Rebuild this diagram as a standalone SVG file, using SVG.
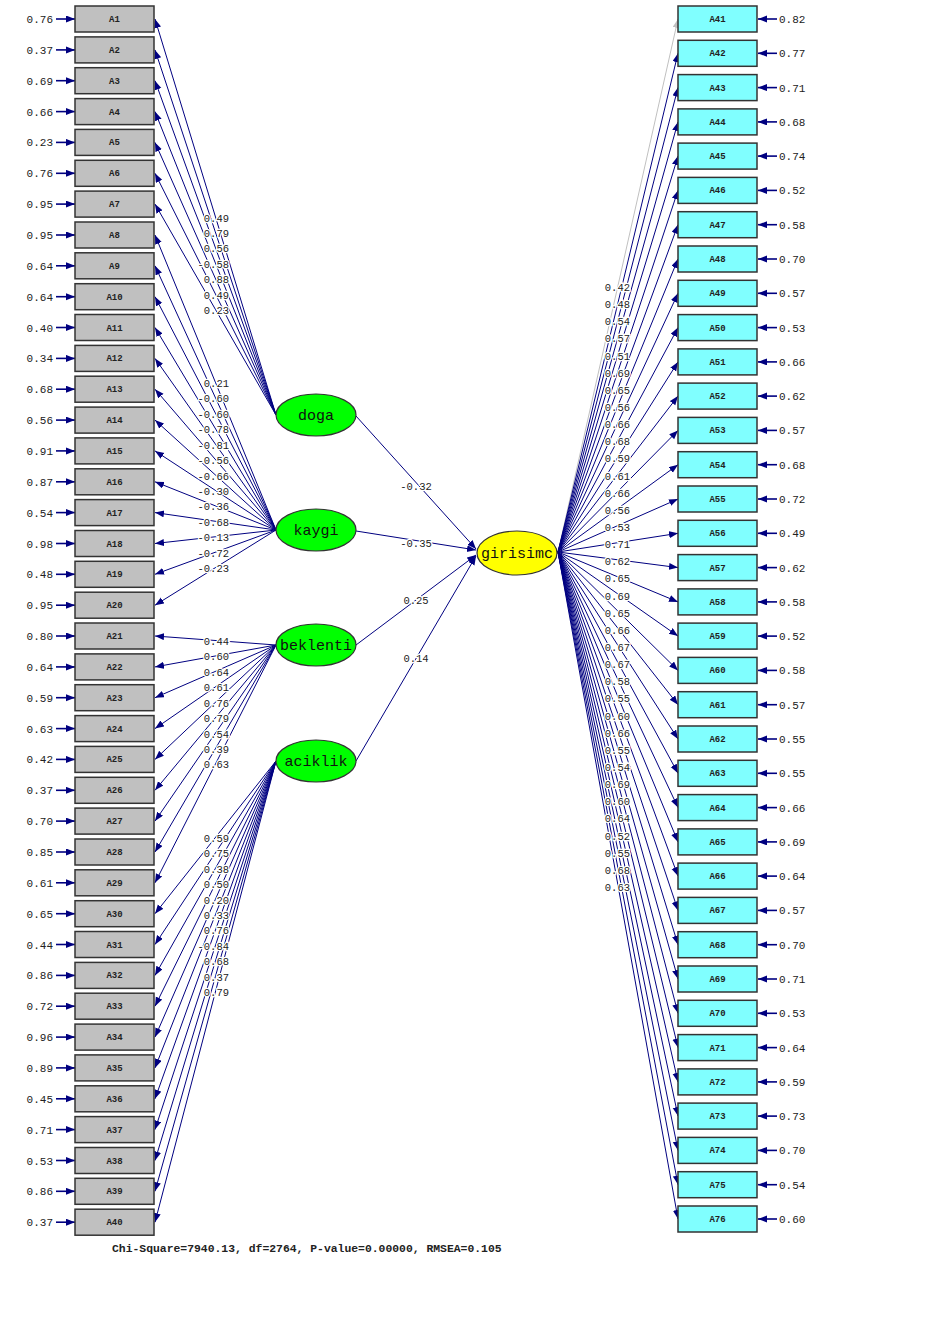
<svg xmlns="http://www.w3.org/2000/svg" width="945" height="1336" viewBox="0 0 945 1336">
<style>
.bg{fill:#ffffff}
.lb{fill:#c0c0c0;stroke:#333;stroke-width:1.5}
.rb{fill:#80ffff;stroke:#333;stroke-width:1.5}
.bt{font-family:"Liberation Mono",monospace;font-size:9px;font-weight:bold;fill:#222;text-anchor:middle}
.rl{font-family:"Liberation Mono",monospace;font-size:11px;fill:#222}
.ll{text-anchor:end}
.lat{fill:#00ff00;stroke:#333;stroke-width:1.2}
.eta{fill:#ffff00;stroke:#333;stroke-width:1.2}
.lt{font-family:"Liberation Mono",monospace;font-size:15px;fill:#111;text-anchor:middle}
.c line{stroke:#000080;stroke-width:1;marker-end:url(#ah)}
.c line.g{stroke:#c0c0c0;marker-end:url(#ahg)}
.c line.r{stroke-width:1.6}
.v text{font-family:"Liberation Mono",monospace;font-size:10.5px;fill:#222;stroke:#fff;stroke-width:2.5;paint-order:stroke;text-anchor:end}
.v text.m{text-anchor:middle}
.ft{font-family:"Liberation Mono",monospace;font-size:11.4px;font-weight:bold;fill:#222}
</style>
<defs>
<marker id="ah" markerUnits="userSpaceOnUse" markerWidth="10" markerHeight="8" refX="9" refY="3.5" orient="auto"><path d="M0,0 L9,3.5 L0,7 Z" fill="#000080"/></marker>
<marker id="ahg" markerUnits="userSpaceOnUse" markerWidth="10" markerHeight="8" refX="9" refY="3.5" orient="auto"><path d="M0,0 L9,3.5 L0,7 Z" fill="#c0c0c0"/></marker>
</defs>
<rect class="bg" x="0" y="0" width="945" height="1336"/>

<g id="connectors" class="c">
<!-- left residuals -->
<line class="r" x1="56" y1="19" x2="75" y2="19"/>
<line class="r" x1="56" y1="49.9" x2="75" y2="49.9"/>
<line class="r" x1="56" y1="80.7" x2="75" y2="80.7"/>
<line class="r" x1="56" y1="111.6" x2="75" y2="111.6"/>
<line class="r" x1="56" y1="142.4" x2="75" y2="142.4"/>
<line class="r" x1="56" y1="173.3" x2="75" y2="173.3"/>
<line class="r" x1="56" y1="204.1" x2="75" y2="204.1"/>
<line class="r" x1="56" y1="235" x2="75" y2="235"/>
<line class="r" x1="56" y1="265.8" x2="75" y2="265.8"/>
<line class="r" x1="56" y1="296.7" x2="75" y2="296.7"/>
<line class="r" x1="56" y1="327.5" x2="75" y2="327.5"/>
<line class="r" x1="56" y1="358.4" x2="75" y2="358.4"/>
<line class="r" x1="56" y1="389.2" x2="75" y2="389.2"/>
<line class="r" x1="56" y1="420.1" x2="75" y2="420.1"/>
<line class="r" x1="56" y1="450.9" x2="75" y2="450.9"/>
<line class="r" x1="56" y1="481.8" x2="75" y2="481.8"/>
<line class="r" x1="56" y1="512.6" x2="75" y2="512.6"/>
<line class="r" x1="56" y1="543.5" x2="75" y2="543.5"/>
<line class="r" x1="56" y1="574.3" x2="75" y2="574.3"/>
<line class="r" x1="56" y1="605.2" x2="75" y2="605.2"/>
<line class="r" x1="56" y1="636" x2="75" y2="636"/>
<line class="r" x1="56" y1="666.9" x2="75" y2="666.9"/>
<line class="r" x1="56" y1="697.7" x2="75" y2="697.7"/>
<line class="r" x1="56" y1="728.6" x2="75" y2="728.6"/>
<line class="r" x1="56" y1="759.4" x2="75" y2="759.4"/>
<line class="r" x1="56" y1="790.3" x2="75" y2="790.3"/>
<line class="r" x1="56" y1="821.1" x2="75" y2="821.1"/>
<line class="r" x1="56" y1="852" x2="75" y2="852"/>
<line class="r" x1="56" y1="882.8" x2="75" y2="882.8"/>
<line class="r" x1="56" y1="913.7" x2="75" y2="913.7"/>
<line class="r" x1="56" y1="944.5" x2="75" y2="944.5"/>
<line class="r" x1="56" y1="975.4" x2="75" y2="975.4"/>
<line class="r" x1="56" y1="1006.2" x2="75" y2="1006.2"/>
<line class="r" x1="56" y1="1037.1" x2="75" y2="1037.1"/>
<line class="r" x1="56" y1="1067.9" x2="75" y2="1067.9"/>
<line class="r" x1="56" y1="1098.8" x2="75" y2="1098.8"/>
<line class="r" x1="56" y1="1129.6" x2="75" y2="1129.6"/>
<line class="r" x1="56" y1="1160.5" x2="75" y2="1160.5"/>
<line class="r" x1="56" y1="1191.3" x2="75" y2="1191.3"/>
<line class="r" x1="56" y1="1222.2" x2="75" y2="1222.2"/>
<!-- right residuals -->
<line class="r" x1="777" y1="19" x2="758" y2="19"/>
<line class="r" x1="777" y1="53.3" x2="758" y2="53.3"/>
<line class="r" x1="777" y1="87.6" x2="758" y2="87.6"/>
<line class="r" x1="777" y1="121.9" x2="758" y2="121.9"/>
<line class="r" x1="777" y1="156.1" x2="758" y2="156.1"/>
<line class="r" x1="777" y1="190.4" x2="758" y2="190.4"/>
<line class="r" x1="777" y1="224.7" x2="758" y2="224.7"/>
<line class="r" x1="777" y1="259" x2="758" y2="259"/>
<line class="r" x1="777" y1="293.3" x2="758" y2="293.3"/>
<line class="r" x1="777" y1="327.6" x2="758" y2="327.6"/>
<line class="r" x1="777" y1="361.9" x2="758" y2="361.9"/>
<line class="r" x1="777" y1="396.1" x2="758" y2="396.1"/>
<line class="r" x1="777" y1="430.4" x2="758" y2="430.4"/>
<line class="r" x1="777" y1="464.7" x2="758" y2="464.7"/>
<line class="r" x1="777" y1="499" x2="758" y2="499"/>
<line class="r" x1="777" y1="533.3" x2="758" y2="533.3"/>
<line class="r" x1="777" y1="567.6" x2="758" y2="567.6"/>
<line class="r" x1="777" y1="601.9" x2="758" y2="601.9"/>
<line class="r" x1="777" y1="636.1" x2="758" y2="636.1"/>
<line class="r" x1="777" y1="670.4" x2="758" y2="670.4"/>
<line class="r" x1="777" y1="704.7" x2="758" y2="704.7"/>
<line class="r" x1="777" y1="739" x2="758" y2="739"/>
<line class="r" x1="777" y1="773.3" x2="758" y2="773.3"/>
<line class="r" x1="777" y1="807.6" x2="758" y2="807.6"/>
<line class="r" x1="777" y1="841.9" x2="758" y2="841.9"/>
<line class="r" x1="777" y1="876.1" x2="758" y2="876.1"/>
<line class="r" x1="777" y1="910.4" x2="758" y2="910.4"/>
<line class="r" x1="777" y1="944.7" x2="758" y2="944.7"/>
<line class="r" x1="777" y1="979" x2="758" y2="979"/>
<line class="r" x1="777" y1="1013.3" x2="758" y2="1013.3"/>
<line class="r" x1="777" y1="1047.6" x2="758" y2="1047.6"/>
<line class="r" x1="777" y1="1081.9" x2="758" y2="1081.9"/>
<line class="r" x1="777" y1="1116.1" x2="758" y2="1116.1"/>
<line class="r" x1="777" y1="1150.4" x2="758" y2="1150.4"/>
<line class="r" x1="777" y1="1184.7" x2="758" y2="1184.7"/>
<line class="r" x1="777" y1="1219" x2="758" y2="1219"/>
<!-- doga loadings -->
<line x1="276" y1="415" x2="155" y2="19"/>
<line x1="276" y1="415" x2="155" y2="49.9"/>
<line x1="276" y1="415" x2="155" y2="80.7"/>
<line x1="276" y1="415" x2="155" y2="111.6"/>
<line x1="276" y1="415" x2="155" y2="142.4"/>
<line x1="276" y1="415" x2="155" y2="173.3"/>
<line x1="276" y1="415" x2="155" y2="204.1"/>
<!-- kaygi loadings -->
<line x1="276" y1="530" x2="155" y2="235"/>
<line x1="276" y1="530" x2="155" y2="265.8"/>
<line x1="276" y1="530" x2="155" y2="296.7"/>
<line x1="276" y1="530" x2="155" y2="327.5"/>
<line x1="276" y1="530" x2="155" y2="358.4"/>
<line x1="276" y1="530" x2="155" y2="389.2"/>
<line x1="276" y1="530" x2="155" y2="420.1"/>
<line x1="276" y1="530" x2="155" y2="450.9"/>
<line x1="276" y1="530" x2="155" y2="481.8"/>
<line x1="276" y1="530" x2="155" y2="512.6"/>
<line x1="276" y1="530" x2="155" y2="543.5"/>
<line x1="276" y1="530" x2="155" y2="574.3"/>
<line x1="276" y1="530" x2="155" y2="605.2"/>
<!-- beklenti loadings -->
<line x1="276" y1="645" x2="155" y2="636"/>
<line x1="276" y1="645" x2="155" y2="666.9"/>
<line x1="276" y1="645" x2="155" y2="697.7"/>
<line x1="276" y1="645" x2="155" y2="728.6"/>
<line x1="276" y1="645" x2="155" y2="759.4"/>
<line x1="276" y1="645" x2="155" y2="790.3"/>
<line x1="276" y1="645" x2="155" y2="821.1"/>
<line x1="276" y1="645" x2="155" y2="852"/>
<line x1="276" y1="645" x2="155" y2="882.8"/>
<!-- aciklik loadings -->
<line x1="276" y1="761" x2="155" y2="913.7"/>
<line x1="276" y1="761" x2="155" y2="944.5"/>
<line x1="276" y1="761" x2="155" y2="975.4"/>
<line x1="276" y1="761" x2="155" y2="1006.2"/>
<line x1="276" y1="761" x2="155" y2="1037.1"/>
<line x1="276" y1="761" x2="155" y2="1067.9"/>
<line x1="276" y1="761" x2="155" y2="1098.8"/>
<line x1="276" y1="761" x2="155" y2="1129.6"/>
<line x1="276" y1="761" x2="155" y2="1160.5"/>
<line x1="276" y1="761" x2="155" y2="1191.3"/>
<line x1="276" y1="761" x2="155" y2="1222.2"/>
<!-- structural paths -->
<line x1="356" y1="416" x2="476" y2="549"/>
<line x1="356" y1="531" x2="476" y2="550"/>
<line x1="356" y1="645" x2="476" y2="555"/>
<line x1="356" y1="761" x2="476" y2="556"/>
<!-- girisimc loadings -->
<line class="g" x1="558" y1="552" x2="678" y2="19"/>
<line x1="558" y1="552" x2="678" y2="53.3"/>
<line x1="558" y1="552" x2="678" y2="87.6"/>
<line x1="558" y1="552" x2="678" y2="121.9"/>
<line x1="558" y1="552" x2="678" y2="156.1"/>
<line x1="558" y1="552" x2="678" y2="190.4"/>
<line x1="558" y1="552" x2="678" y2="224.7"/>
<line x1="558" y1="552" x2="678" y2="259"/>
<line x1="558" y1="552" x2="678" y2="293.3"/>
<line x1="558" y1="552" x2="678" y2="327.6"/>
<line x1="558" y1="552" x2="678" y2="361.9"/>
<line x1="558" y1="552" x2="678" y2="396.1"/>
<line x1="558" y1="552" x2="678" y2="430.4"/>
<line x1="558" y1="552" x2="678" y2="464.7"/>
<line x1="558" y1="552" x2="678" y2="499"/>
<line x1="558" y1="552" x2="678" y2="533.3"/>
<line x1="558" y1="552" x2="678" y2="567.6"/>
<line x1="558" y1="552" x2="678" y2="601.9"/>
<line x1="558" y1="552" x2="678" y2="636.1"/>
<line x1="558" y1="552" x2="678" y2="670.4"/>
<line x1="558" y1="552" x2="678" y2="704.7"/>
<line x1="558" y1="552" x2="678" y2="739"/>
<line x1="558" y1="552" x2="678" y2="773.3"/>
<line x1="558" y1="552" x2="678" y2="807.6"/>
<line x1="558" y1="552" x2="678" y2="841.9"/>
<line x1="558" y1="552" x2="678" y2="876.1"/>
<line x1="558" y1="552" x2="678" y2="910.4"/>
<line x1="558" y1="552" x2="678" y2="944.7"/>
<line x1="558" y1="552" x2="678" y2="979"/>
<line x1="558" y1="552" x2="678" y2="1013.3"/>
<line x1="558" y1="552" x2="678" y2="1047.6"/>
<line x1="558" y1="552" x2="678" y2="1081.9"/>
<line x1="558" y1="552" x2="678" y2="1116.1"/>
<line x1="558" y1="552" x2="678" y2="1150.4"/>
<line x1="558" y1="552" x2="678" y2="1184.7"/>
<line x1="558" y1="552" x2="678" y2="1219"/>
</g>

<g id="path-values" class="v">
<text x="229" y="221.5">0.49</text>
<text x="229" y="237">0.79</text>
<text x="229" y="252.3">0.56</text>
<text x="229" y="267.8">-0.58</text>
<text x="229" y="283.2">0.88</text>
<text x="229" y="298.6">0.49</text>
<text x="229" y="314">0.23</text>
<text x="229" y="387">0.21</text>
<text x="229" y="402.4">-0.60</text>
<text x="229" y="417.8">-0.60</text>
<text x="229" y="433.2">-0.78</text>
<text x="229" y="448.7">-0.81</text>
<text x="229" y="464.1">-0.56</text>
<text x="229" y="479.5">-0.66</text>
<text x="229" y="494.9">-0.30</text>
<text x="229" y="510.4">-0.36</text>
<text x="229" y="525.8">-0.68</text>
<text x="229" y="541.2">-0.13</text>
<text x="229" y="556.6">-0.72</text>
<text x="229" y="572.1">-0.23</text>
<text x="229" y="645">0.44</text>
<text x="229" y="660.4">0.60</text>
<text x="229" y="675.8">0.64</text>
<text x="229" y="691.3">0.61</text>
<text x="229" y="706.7">0.76</text>
<text x="229" y="722.1">0.79</text>
<text x="229" y="737.5">0.54</text>
<text x="229" y="753">0.39</text>
<text x="229" y="768.4">0.63</text>
<text x="229" y="841.8">0.59</text>
<text x="229" y="857.2">0.75</text>
<text x="229" y="872.7">0.38</text>
<text x="229" y="888.1">0.50</text>
<text x="229" y="903.5">0.20</text>
<text x="229" y="918.9">0.33</text>
<text x="229" y="934.4">0.76</text>
<text x="229" y="949.8">-0.84</text>
<text x="229" y="965.2">0.68</text>
<text x="229" y="980.6">0.37</text>
<text x="229" y="996.1">0.79</text>
<text class="m" x="416" y="490">-0.32</text>
<text class="m" x="416" y="547">-0.35</text>
<text class="m" x="416" y="604">0.25</text>
<text class="m" x="416" y="662">0.14</text>
<text x="630" y="291">0.42</text>
<text x="630" y="308.1">0.48</text>
<text x="630" y="325.3">0.54</text>
<text x="630" y="342.4">0.57</text>
<text x="630" y="359.5">0.51</text>
<text x="630" y="376.7">0.69</text>
<text x="630" y="393.8">0.65</text>
<text x="630" y="411">0.56</text>
<text x="630" y="428.1">0.66</text>
<text x="630" y="445.3">0.68</text>
<text x="630" y="462.4">0.59</text>
<text x="630" y="479.5">0.61</text>
<text x="630" y="496.7">0.66</text>
<text x="630" y="513.8">0.56</text>
<text x="630" y="531">0.53</text>
<text x="630" y="548.1">0.71</text>
<text x="630" y="565.3">0.62</text>
<text x="630" y="582.4">0.65</text>
<text x="630" y="599.5">0.69</text>
<text x="630" y="616.7">0.65</text>
<text x="630" y="633.8">0.66</text>
<text x="630" y="651">0.67</text>
<text x="630" y="668.1">0.67</text>
<text x="630" y="685.3">0.58</text>
<text x="630" y="702.4">0.55</text>
<text x="630" y="719.5">0.60</text>
<text x="630" y="736.7">0.66</text>
<text x="630" y="753.8">0.55</text>
<text x="630" y="771">0.54</text>
<text x="630" y="788.1">0.69</text>
<text x="630" y="805.3">0.60</text>
<text x="630" y="822.4">0.64</text>
<text x="630" y="839.5">0.52</text>
<text x="630" y="856.7">0.55</text>
<text x="630" y="873.8">0.68</text>
<text x="630" y="891">0.63</text>
</g>

<g id="A1"><rect class="lb" x="75" y="6" width="79" height="26"/><text class="bt" x="114.5" y="22">A1</text><text class="rl ll" x="53" y="23">0.76</text></g>
<g id="A2"><rect class="lb" x="75" y="36.9" width="79" height="26"/><text class="bt" x="114.5" y="52.9">A2</text><text class="rl ll" x="53" y="53.9">0.37</text></g>
<g id="A3"><rect class="lb" x="75" y="67.7" width="79" height="26"/><text class="bt" x="114.5" y="83.7">A3</text><text class="rl ll" x="53" y="84.7">0.69</text></g>
<g id="A4"><rect class="lb" x="75" y="98.6" width="79" height="26"/><text class="bt" x="114.5" y="114.6">A4</text><text class="rl ll" x="53" y="115.6">0.66</text></g>
<g id="A5"><rect class="lb" x="75" y="129.4" width="79" height="26"/><text class="bt" x="114.5" y="145.4">A5</text><text class="rl ll" x="53" y="146.4">0.23</text></g>
<g id="A6"><rect class="lb" x="75" y="160.3" width="79" height="26"/><text class="bt" x="114.5" y="176.3">A6</text><text class="rl ll" x="53" y="177.3">0.76</text></g>
<g id="A7"><rect class="lb" x="75" y="191.1" width="79" height="26"/><text class="bt" x="114.5" y="207.1">A7</text><text class="rl ll" x="53" y="208.1">0.95</text></g>
<g id="A8"><rect class="lb" x="75" y="222" width="79" height="26"/><text class="bt" x="114.5" y="238">A8</text><text class="rl ll" x="53" y="239">0.95</text></g>
<g id="A9"><rect class="lb" x="75" y="252.8" width="79" height="26"/><text class="bt" x="114.5" y="268.8">A9</text><text class="rl ll" x="53" y="269.8">0.64</text></g>
<g id="A10"><rect class="lb" x="75" y="283.7" width="79" height="26"/><text class="bt" x="114.5" y="299.7">A10</text><text class="rl ll" x="53" y="300.7">0.64</text></g>
<g id="A11"><rect class="lb" x="75" y="314.5" width="79" height="26"/><text class="bt" x="114.5" y="330.5">A11</text><text class="rl ll" x="53" y="331.5">0.40</text></g>
<g id="A12"><rect class="lb" x="75" y="345.4" width="79" height="26"/><text class="bt" x="114.5" y="361.4">A12</text><text class="rl ll" x="53" y="362.4">0.34</text></g>
<g id="A13"><rect class="lb" x="75" y="376.2" width="79" height="26"/><text class="bt" x="114.5" y="392.2">A13</text><text class="rl ll" x="53" y="393.2">0.68</text></g>
<g id="A14"><rect class="lb" x="75" y="407.1" width="79" height="26"/><text class="bt" x="114.5" y="423.1">A14</text><text class="rl ll" x="53" y="424.1">0.56</text></g>
<g id="A15"><rect class="lb" x="75" y="437.9" width="79" height="26"/><text class="bt" x="114.5" y="453.9">A15</text><text class="rl ll" x="53" y="454.9">0.91</text></g>
<g id="A16"><rect class="lb" x="75" y="468.8" width="79" height="26"/><text class="bt" x="114.5" y="484.8">A16</text><text class="rl ll" x="53" y="485.8">0.87</text></g>
<g id="A17"><rect class="lb" x="75" y="499.6" width="79" height="26"/><text class="bt" x="114.5" y="515.6">A17</text><text class="rl ll" x="53" y="516.6">0.54</text></g>
<g id="A18"><rect class="lb" x="75" y="530.5" width="79" height="26"/><text class="bt" x="114.5" y="546.5">A18</text><text class="rl ll" x="53" y="547.5">0.98</text></g>
<g id="A19"><rect class="lb" x="75" y="561.3" width="79" height="26"/><text class="bt" x="114.5" y="577.3">A19</text><text class="rl ll" x="53" y="578.3">0.48</text></g>
<g id="A20"><rect class="lb" x="75" y="592.2" width="79" height="26"/><text class="bt" x="114.5" y="608.2">A20</text><text class="rl ll" x="53" y="609.2">0.95</text></g>
<g id="A21"><rect class="lb" x="75" y="623" width="79" height="26"/><text class="bt" x="114.5" y="639">A21</text><text class="rl ll" x="53" y="640">0.80</text></g>
<g id="A22"><rect class="lb" x="75" y="653.9" width="79" height="26"/><text class="bt" x="114.5" y="669.9">A22</text><text class="rl ll" x="53" y="670.9">0.64</text></g>
<g id="A23"><rect class="lb" x="75" y="684.7" width="79" height="26"/><text class="bt" x="114.5" y="700.7">A23</text><text class="rl ll" x="53" y="701.7">0.59</text></g>
<g id="A24"><rect class="lb" x="75" y="715.6" width="79" height="26"/><text class="bt" x="114.5" y="731.6">A24</text><text class="rl ll" x="53" y="732.6">0.63</text></g>
<g id="A25"><rect class="lb" x="75" y="746.4" width="79" height="26"/><text class="bt" x="114.5" y="762.4">A25</text><text class="rl ll" x="53" y="763.4">0.42</text></g>
<g id="A26"><rect class="lb" x="75" y="777.3" width="79" height="26"/><text class="bt" x="114.5" y="793.3">A26</text><text class="rl ll" x="53" y="794.3">0.37</text></g>
<g id="A27"><rect class="lb" x="75" y="808.1" width="79" height="26"/><text class="bt" x="114.5" y="824.1">A27</text><text class="rl ll" x="53" y="825.1">0.70</text></g>
<g id="A28"><rect class="lb" x="75" y="839" width="79" height="26"/><text class="bt" x="114.5" y="855">A28</text><text class="rl ll" x="53" y="856">0.85</text></g>
<g id="A29"><rect class="lb" x="75" y="869.8" width="79" height="26"/><text class="bt" x="114.5" y="885.8">A29</text><text class="rl ll" x="53" y="886.8">0.61</text></g>
<g id="A30"><rect class="lb" x="75" y="900.7" width="79" height="26"/><text class="bt" x="114.5" y="916.7">A30</text><text class="rl ll" x="53" y="917.7">0.65</text></g>
<g id="A31"><rect class="lb" x="75" y="931.5" width="79" height="26"/><text class="bt" x="114.5" y="947.5">A31</text><text class="rl ll" x="53" y="948.5">0.44</text></g>
<g id="A32"><rect class="lb" x="75" y="962.4" width="79" height="26"/><text class="bt" x="114.5" y="978.4">A32</text><text class="rl ll" x="53" y="979.4">0.86</text></g>
<g id="A33"><rect class="lb" x="75" y="993.2" width="79" height="26"/><text class="bt" x="114.5" y="1009.2">A33</text><text class="rl ll" x="53" y="1010.2">0.72</text></g>
<g id="A34"><rect class="lb" x="75" y="1024.1" width="79" height="26"/><text class="bt" x="114.5" y="1040.1">A34</text><text class="rl ll" x="53" y="1041.1">0.96</text></g>
<g id="A35"><rect class="lb" x="75" y="1054.9" width="79" height="26"/><text class="bt" x="114.5" y="1070.9">A35</text><text class="rl ll" x="53" y="1071.9">0.89</text></g>
<g id="A36"><rect class="lb" x="75" y="1085.8" width="79" height="26"/><text class="bt" x="114.5" y="1101.8">A36</text><text class="rl ll" x="53" y="1102.8">0.45</text></g>
<g id="A37"><rect class="lb" x="75" y="1116.6" width="79" height="26"/><text class="bt" x="114.5" y="1132.6">A37</text><text class="rl ll" x="53" y="1133.6">0.71</text></g>
<g id="A38"><rect class="lb" x="75" y="1147.5" width="79" height="26"/><text class="bt" x="114.5" y="1163.5">A38</text><text class="rl ll" x="53" y="1164.5">0.53</text></g>
<g id="A39"><rect class="lb" x="75" y="1178.3" width="79" height="26"/><text class="bt" x="114.5" y="1194.3">A39</text><text class="rl ll" x="53" y="1195.3">0.86</text></g>
<g id="A40"><rect class="lb" x="75" y="1209.2" width="79" height="26"/><text class="bt" x="114.5" y="1225.2">A40</text><text class="rl ll" x="53" y="1226.2">0.37</text></g>

<g id="A41"><rect class="rb" x="678" y="6" width="79" height="26"/><text class="bt" x="717.5" y="22">A41</text><text class="rl" x="779" y="23">0.82</text></g>
<g id="A42"><rect class="rb" x="678" y="40.3" width="79" height="26"/><text class="bt" x="717.5" y="56.3">A42</text><text class="rl" x="779" y="57.3">0.77</text></g>
<g id="A43"><rect class="rb" x="678" y="74.6" width="79" height="26"/><text class="bt" x="717.5" y="90.6">A43</text><text class="rl" x="779" y="91.6">0.71</text></g>
<g id="A44"><rect class="rb" x="678" y="108.9" width="79" height="26"/><text class="bt" x="717.5" y="124.9">A44</text><text class="rl" x="779" y="125.9">0.68</text></g>
<g id="A45"><rect class="rb" x="678" y="143.1" width="79" height="26"/><text class="bt" x="717.5" y="159.1">A45</text><text class="rl" x="779" y="160.1">0.74</text></g>
<g id="A46"><rect class="rb" x="678" y="177.4" width="79" height="26"/><text class="bt" x="717.5" y="193.4">A46</text><text class="rl" x="779" y="194.4">0.52</text></g>
<g id="A47"><rect class="rb" x="678" y="211.7" width="79" height="26"/><text class="bt" x="717.5" y="227.7">A47</text><text class="rl" x="779" y="228.7">0.58</text></g>
<g id="A48"><rect class="rb" x="678" y="246" width="79" height="26"/><text class="bt" x="717.5" y="262">A48</text><text class="rl" x="779" y="263">0.70</text></g>
<g id="A49"><rect class="rb" x="678" y="280.3" width="79" height="26"/><text class="bt" x="717.5" y="296.3">A49</text><text class="rl" x="779" y="297.3">0.57</text></g>
<g id="A50"><rect class="rb" x="678" y="314.6" width="79" height="26"/><text class="bt" x="717.5" y="330.6">A50</text><text class="rl" x="779" y="331.6">0.53</text></g>
<g id="A51"><rect class="rb" x="678" y="348.9" width="79" height="26"/><text class="bt" x="717.5" y="364.9">A51</text><text class="rl" x="779" y="365.9">0.66</text></g>
<g id="A52"><rect class="rb" x="678" y="383.1" width="79" height="26"/><text class="bt" x="717.5" y="399.1">A52</text><text class="rl" x="779" y="400.1">0.62</text></g>
<g id="A53"><rect class="rb" x="678" y="417.4" width="79" height="26"/><text class="bt" x="717.5" y="433.4">A53</text><text class="rl" x="779" y="434.4">0.57</text></g>
<g id="A54"><rect class="rb" x="678" y="451.7" width="79" height="26"/><text class="bt" x="717.5" y="467.7">A54</text><text class="rl" x="779" y="468.7">0.68</text></g>
<g id="A55"><rect class="rb" x="678" y="486" width="79" height="26"/><text class="bt" x="717.5" y="502">A55</text><text class="rl" x="779" y="503">0.72</text></g>
<g id="A56"><rect class="rb" x="678" y="520.3" width="79" height="26"/><text class="bt" x="717.5" y="536.3">A56</text><text class="rl" x="779" y="537.3">0.49</text></g>
<g id="A57"><rect class="rb" x="678" y="554.6" width="79" height="26"/><text class="bt" x="717.5" y="570.6">A57</text><text class="rl" x="779" y="571.6">0.62</text></g>
<g id="A58"><rect class="rb" x="678" y="588.9" width="79" height="26"/><text class="bt" x="717.5" y="604.9">A58</text><text class="rl" x="779" y="605.9">0.58</text></g>
<g id="A59"><rect class="rb" x="678" y="623.1" width="79" height="26"/><text class="bt" x="717.5" y="639.1">A59</text><text class="rl" x="779" y="640.1">0.52</text></g>
<g id="A60"><rect class="rb" x="678" y="657.4" width="79" height="26"/><text class="bt" x="717.5" y="673.4">A60</text><text class="rl" x="779" y="674.4">0.58</text></g>
<g id="A61"><rect class="rb" x="678" y="691.7" width="79" height="26"/><text class="bt" x="717.5" y="707.7">A61</text><text class="rl" x="779" y="708.7">0.57</text></g>
<g id="A62"><rect class="rb" x="678" y="726" width="79" height="26"/><text class="bt" x="717.5" y="742">A62</text><text class="rl" x="779" y="743">0.55</text></g>
<g id="A63"><rect class="rb" x="678" y="760.3" width="79" height="26"/><text class="bt" x="717.5" y="776.3">A63</text><text class="rl" x="779" y="777.3">0.55</text></g>
<g id="A64"><rect class="rb" x="678" y="794.6" width="79" height="26"/><text class="bt" x="717.5" y="810.6">A64</text><text class="rl" x="779" y="811.6">0.66</text></g>
<g id="A65"><rect class="rb" x="678" y="828.9" width="79" height="26"/><text class="bt" x="717.5" y="844.9">A65</text><text class="rl" x="779" y="845.9">0.69</text></g>
<g id="A66"><rect class="rb" x="678" y="863.1" width="79" height="26"/><text class="bt" x="717.5" y="879.1">A66</text><text class="rl" x="779" y="880.1">0.64</text></g>
<g id="A67"><rect class="rb" x="678" y="897.4" width="79" height="26"/><text class="bt" x="717.5" y="913.4">A67</text><text class="rl" x="779" y="914.4">0.57</text></g>
<g id="A68"><rect class="rb" x="678" y="931.7" width="79" height="26"/><text class="bt" x="717.5" y="947.7">A68</text><text class="rl" x="779" y="948.7">0.70</text></g>
<g id="A69"><rect class="rb" x="678" y="966" width="79" height="26"/><text class="bt" x="717.5" y="982">A69</text><text class="rl" x="779" y="983">0.71</text></g>
<g id="A70"><rect class="rb" x="678" y="1000.3" width="79" height="26"/><text class="bt" x="717.5" y="1016.3">A70</text><text class="rl" x="779" y="1017.3">0.53</text></g>
<g id="A71"><rect class="rb" x="678" y="1034.6" width="79" height="26"/><text class="bt" x="717.5" y="1050.6">A71</text><text class="rl" x="779" y="1051.6">0.64</text></g>
<g id="A72"><rect class="rb" x="678" y="1068.9" width="79" height="26"/><text class="bt" x="717.5" y="1084.9">A72</text><text class="rl" x="779" y="1085.9">0.59</text></g>
<g id="A73"><rect class="rb" x="678" y="1103.1" width="79" height="26"/><text class="bt" x="717.5" y="1119.1">A73</text><text class="rl" x="779" y="1120.1">0.73</text></g>
<g id="A74"><rect class="rb" x="678" y="1137.4" width="79" height="26"/><text class="bt" x="717.5" y="1153.4">A74</text><text class="rl" x="779" y="1154.4">0.70</text></g>
<g id="A75"><rect class="rb" x="678" y="1171.7" width="79" height="26"/><text class="bt" x="717.5" y="1187.7">A75</text><text class="rl" x="779" y="1188.7">0.54</text></g>
<g id="A76"><rect class="rb" x="678" y="1206" width="79" height="26"/><text class="bt" x="717.5" y="1222">A76</text><text class="rl" x="779" y="1223">0.60</text></g>

<g id="doga"><ellipse class="lat" cx="316" cy="415" rx="40" ry="21"/><text class="lt" x="316" y="420">doga</text></g>
<g id="kaygi"><ellipse class="lat" cx="316" cy="530" rx="40" ry="21"/><text class="lt" x="316" y="535">kaygi</text></g>
<g id="beklenti"><ellipse class="lat" cx="316" cy="645" rx="40" ry="21"/><text class="lt" x="316" y="650">beklenti</text></g>
<g id="aciklik"><ellipse class="lat" cx="316" cy="761" rx="40" ry="21"/><text class="lt" x="316" y="766">aciklik</text></g>
<g id="girisimc"><ellipse class="eta" cx="517" cy="553" rx="40" ry="22"/><text class="lt" x="517" y="558">girisimc</text></g>

<text class="ft" x="112" y="1252">Chi-Square=7940.13, df=2764, P-value=0.00000, RMSEA=0.105</text>
</svg>
